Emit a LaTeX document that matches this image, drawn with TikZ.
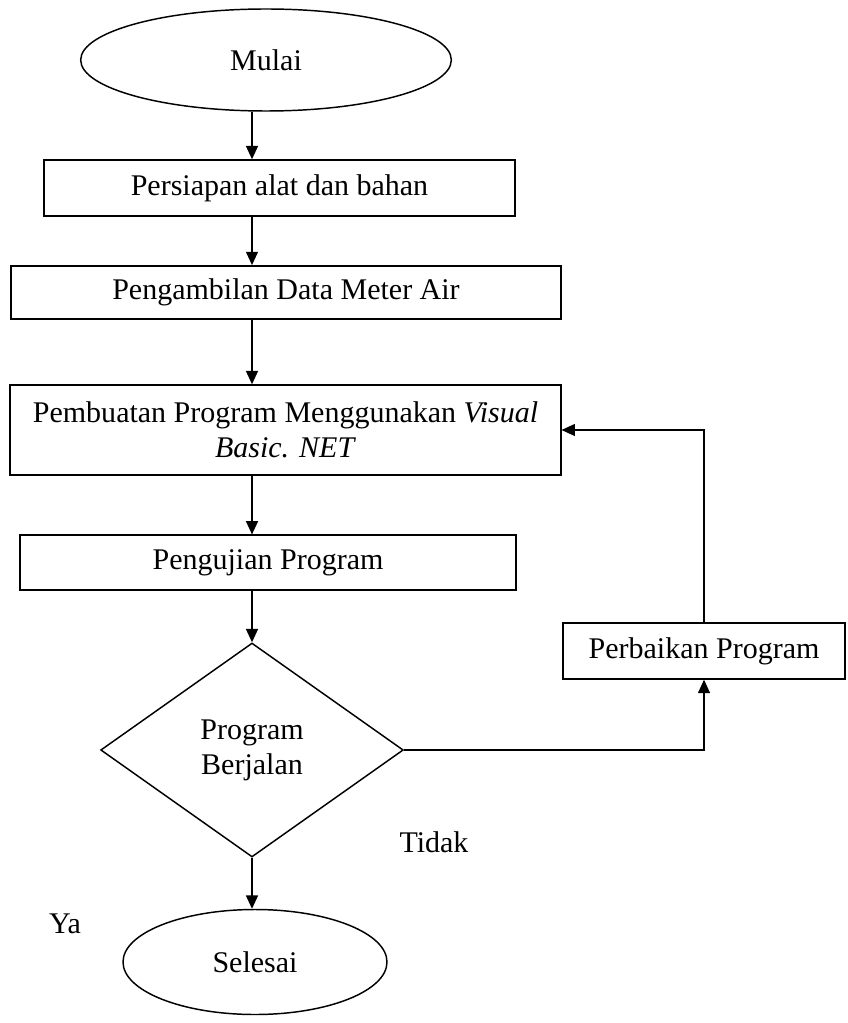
\documentclass[tikz,border=0pt]{standalone}
\usepackage{fontspec}
\setmainfont{Liberation Serif}
\usepackage{tikz}
\usetikzlibrary{arrows.meta, positioning, shapes.geometric}

\begin{document}
\begin{tikzpicture}[
  x=0.75pt, y=-0.75pt,
  every node/.style={font=\fontsize{22.5}{26.25}\selectfont},
  box/.style={draw, line width=1.1pt, inner sep=0pt, align=center},
  term/.style={draw, ellipse, line width=1.1pt, inner sep=0pt},
  decision/.style={draw, diamond, line width=1.1pt, inner sep=0pt, align=center,
                   minimum width=227pt, minimum height=160.5pt},
  arr/.style={-{Triangle[length=10pt, width=9pt]}, line width=1.1pt},
  back/.style={-{Triangle[length=10pt, width=9pt]}, line width=0.8pt}
]
  \useasboundingbox (0,0) rectangle (847,1023);

  \node[term, minimum width=278pt, minimum height=76.5pt] (mulai) at (266, 60) {Mulai};
  \node[box, minimum width=353pt, minimum height=42pt] (siap) at (279.5, 188) {Persiapan alat dan bahan};
  \node[box, minimum width=412.5pt, minimum height=40pt] (ambil) at (286, 292.5) {Pengambilan Data Meter Air};
  \node[box, minimum width=413pt, minimum height=67.5pt] (buat) at (285.5, 430)
    {Pembuatan Program Menggunakan \textit{Visual}\\ \textit{Basic. NET}};
  \node[box, minimum width=372pt, minimum height=41pt] (uji) at (268, 562.5) {Pengujian Program};
  \node[decision] (jalan) at (252, 750) {Program\\ Berjalan};
  \node[term, minimum width=198pt, minimum height=78.75pt] (selesai) at (255, 962) {Selesai};
  \node[box, minimum width=211.5pt, minimum height=42pt] (baik) at (704, 651) {Perbaikan Program};

  \node (tidak) at (434, 842) {Tidak};
  \node (ya) at (65, 924) {Ya};

  \coordinate (ax) at (252, 0);
  \draw[arr] (mulai.south -| ax) -- (siap.north -| ax);
  \draw[arr] (siap.south -| ax)  -- (ambil.north -| ax);
  \draw[arr] (ambil.south -| ax) -- (buat.north -| ax);
  \draw[arr] (buat.south -| ax)  -- (uji.north -| ax);
  \draw[arr] (uji.south -| ax)   -- (jalan.north);
  \draw[arr] (jalan.south)       -- (selesai.north -| ax);

  \draw[back] (jalan.east) -| (baik.south);
  \draw[back] (baik.north) |- (buat.east);
\end{tikzpicture}
\end{document}
